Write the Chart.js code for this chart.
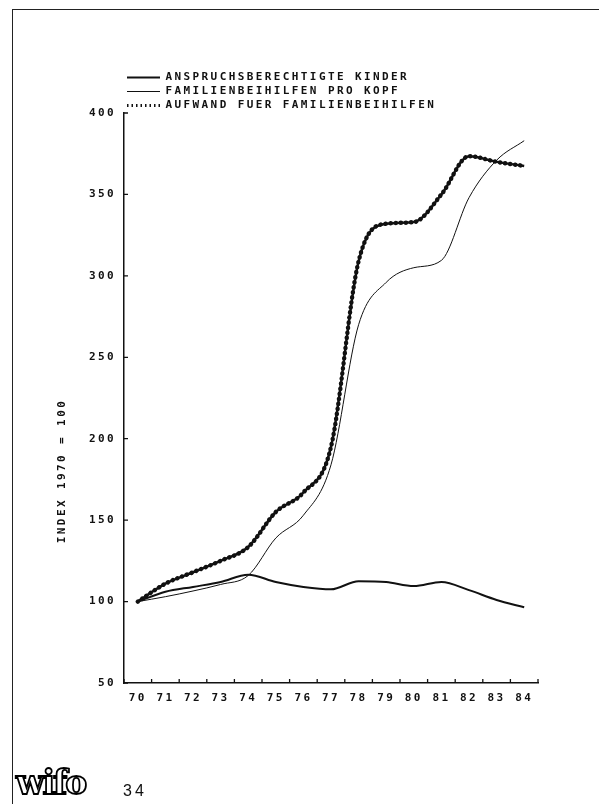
<!DOCTYPE html>
<html>
<head>
<meta charset="utf-8">
<script src="https://cdn.jsdelivr.net/npm/chart.js@4.4.0/dist/chart.umd.min.js"></script>
<style>
  html, body { margin: 0; padding: 0; background: #fff; }
  #wrap { position: relative; width: 599px; height: 804px; overflow: hidden; }
  #frame { position: absolute; left: 12px; top: 9px; right: 0; bottom: 0;
           border-top: 1.5px solid #222; border-left: 1.5px solid #222; }
  #logo { position: absolute; left: 16px; top: 763px; font: bold 33px "DejaVu Serif";
          color: #fff; -webkit-text-stroke: 1.8px #000; letter-spacing: -2px; }
  #page { position: absolute; left: 123px; top: 782px; font: 16px "Liberation Sans";
          letter-spacing: 3px; color: #111; }
  canvas { position: absolute; left: 0; top: 0; }
</style>
</head>
<body>
<div id="wrap">
  <div id="frame"></div>
  <canvas id="chart" width="599" height="804"></canvas>
  <div id="logo">wifo</div>
  <div id="page">34</div>
</div>
<script>
document.addEventListener("DOMContentLoaded", function () {

    // data (index 1970 = 100)
    const years = ["70", "71", "72", "73", "74", "75", "76", "77", "78", "79", "80", "81", "82", "83", "84"];
    const kinder = [100, 106, 109, 112, 116.5, 112, 109, 107.5, 112.5, 112, 109.5, 112, 107, 101, 96.5];
    const proKopf = [100, 103, 106.5, 110.5, 116, 139, 153, 184, 270, 296, 305, 309.5, 348, 371, 383];
    const aufwand = [100, 111, 118, 125, 133.5, 155, 167, 195, 309, 332, 333, 350, 373.5, 370, 367.5];

    const seriesNames = ["ANSPRUCHSBERECHTIGTE KINDER", "FAMILIENBEIHILFEN PRO KOPF", "AUFWAND FUER FAMILIENBEIHILFEN"];
    const yTitle = "INDEX 1970 = 100";

    const ink = "#111";
    const plotFont = { family: "DejaVu Sans Mono", size: 11, weight: "bold" };
    const letterGap = "2.4px";

    // plotter look: wide letter spacing on every canvas text
    const spacing = {
        id: "spacing",
        beforeLayout(chart) { chart.ctx.letterSpacing = letterGap; },
        beforeDraw(chart) { chart.ctx.letterSpacing = letterGap; }
    };

    // inward tick marks + rotated axis title
    const ticksInside = {
        id: "ticksInside",
        afterDraw(chart) {
            const ctx = chart.ctx;
            const x = chart.scales.x, y = chart.scales.y;
            ctx.save();
            ctx.strokeStyle = ink;
            ctx.lineWidth = 1.3;
            ctx.beginPath();
            y.ticks.forEach(t => {
                const py = y.getPixelForValue(t.value);
                ctx.moveTo(x.left, py);
                ctx.lineTo(x.left + 4, py);
            });
            for (let i = 0; i <= years.length; i++) {
                const px = x.getPixelForValue(i - 0.5);
                ctx.moveTo(px, y.bottom);
                ctx.lineTo(px, y.bottom - 4);
            }
            ctx.stroke();

            ctx.letterSpacing = letterGap;
            ctx.fillStyle = ink;
            ctx.font = "bold 11px 'DejaVu Sans Mono'";
            ctx.textAlign = "center";
            ctx.textBaseline = "middle";
            ctx.translate(62, 471);
            ctx.rotate(-Math.PI / 2);
            ctx.fillText(yTitle, 0, 0);
            ctx.restore();
        }
    };

    new Chart(document.getElementById("chart"), {
        type: "line",
        data: {
            labels: years,
            datasets: [{
                label: seriesNames[0],
                data: kinder,
                borderColor: ink,
                borderWidth: 2,
                pointRadius: 0,
                cubicInterpolationMode: "monotone"
            }, {
                label: seriesNames[1],
                data: proKopf,
                borderColor: ink,
                borderWidth: 1,
                pointRadius: 0,
                cubicInterpolationMode: "monotone"
            }, {
                label: seriesNames[2],
                data: aufwand,
                borderColor: ink,
                borderWidth: 2.5,
                pointRadius: 0,
                cubicInterpolationMode: "monotone"
            }, {
                // bead layer over the Aufwand line
                label: "",
                data: aufwand,
                borderColor: ink,
                borderWidth: 4.5,
                borderDash: [0.1, 5],
                borderCapStyle: "round",
                pointRadius: 0,
                cubicInterpolationMode: "monotone"
            }]
        },
        options: {
            responsive: false,
            animation: false,
            events: [],
            layout: { padding: { left: 80, right: 61, top: 69, bottom: 97 } },
            plugins: {
                tooltip: { enabled: false },
                legend: {
                    position: "top",
                    align: "start",
                    fullSize: false,
                    maxHeight: 44,
                    labels: {
                        color: ink,
                        font: plotFont,
                        padding: 3,
                        usePointStyle: true,
                        pointStyleWidth: 33,
                        filter: item => item.text !== "",
                        generateLabels(chart) {
                            const dash = [[], [], [1.5, 3]];
                            const widths = [2, 1, 3];
                            return seriesNames.map((name, i) => ({
                                text: name,
                                datasetIndex: i,
                                pointStyle: "line",
                                strokeStyle: ink,
                                fillStyle: ink,
                                fontColor: ink,
                                lineWidth: widths[i],
                                lineDash: dash[i],
                                hidden: false
                            }));
                        }
                    }
                }
            },
            scales: {
                x: {
                    type: "category",
                    offset: true,
                    afterFit: s => { s.height = 24; },
                    grid: { display: false, offset: true },
                    border: { display: true, color: ink, width: 1.5 },
                    ticks: { color: ink, font: plotFont, padding: 1, maxRotation: 0, autoSkip: false }
                },
                y: {
                    min: 50,
                    max: 400,
                    afterFit: s => { s.width = 44; },
                    grid: { display: false },
                    border: { display: true, color: ink, width: 1.5 },
                    ticks: { stepSize: 50, color: ink, font: plotFont, padding: 0 }
                }
            }
        },
        plugins: [spacing, ticksInside]
    });

});
</script>
</body>
</html>
